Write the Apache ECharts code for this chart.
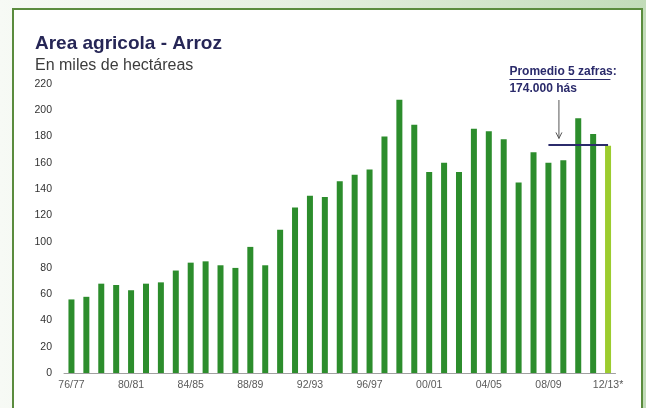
<!DOCTYPE html>
<html><head><meta charset="utf-8">
<script src="https://cdn.jsdelivr.net/npm/echarts@6/dist/echarts.min.js"></script>
<style>
html,body{margin:0;padding:0;width:646px;height:408px;overflow:hidden;background:linear-gradient(90deg,#f7faf5 0%,#e6f0e1 45%,#c2dcb9 100%);}
#panel{position:absolute;left:12px;top:8px;width:631px;height:430px;background:#fff;border:2px solid #5b8c3e;box-sizing:border-box;}
#chart{position:absolute;left:0;top:0;width:646px;height:408px;}
</style></head><body>
<div id="panel"></div><div id="chart"></div>
<script>
const categories = ["76/77","77/78","78/79","79/80","80/81","81/82","82/83","83/84","84/85","85/86","86/87","87/88","88/89","89/90","90/91","91/92","92/93","93/94","94/95","95/96","96/97","97/98","98/99","99/00","00/01","01/02","02/03","03/04","04/05","05/06","06/07","07/08","08/09","09/10","10/11","11/12","12/13*"];
const areaValues = [56,58,68,67,63,68,69,78,84,85,82,80,96,82,109,126,135,134,146,151,155,180,208,189,153,160,153,186,184,178,145,168,160,162,194,182,173];
const yTicks = [0,20,40,60,80,100,120,140,160,180,200,220];
const averageValue = 174;
const averageFrom = 32, averageTo = 36;
const titleText = "Area agricola - Arroz";
const subtitleText = "En miles de hectáreas";
const noteLine1 = "Promedio 5 zafras";
const noteLine2 = "174.000 hás";

const chart = echarts.init(document.getElementById('chart'), null, {renderer:'canvas'});
const FONT = "'Liberation Sans', Arial, sans-serif";
const lastIdx = areaValues.length - 1;
const option = {
  backgroundColor: 'transparent',
  animation: false,
  title: [
    {text: titleText, left: 30, top: 29, padding: 5, textStyle:{fontFamily:FONT, fontSize:19, fontWeight:'bold', color:'#262656'}},
    {text: subtitleText, left: 30, top: 53, padding: 5, textStyle:{fontFamily:FONT, fontSize:16, fontWeight:'normal', color:'#3c3c3c'}}
  ],
  grid: {left: 64, right: 30.5, top: 84, bottom: 35},
  xAxis: {
    type: 'category', data: categories, boundaryGap: true,
    axisLine: {show:true, lineStyle:{color:'#a0a0a0', width:1}},
    axisTick: {show:false},
    axisLabel: {interval: 3, color:'#5a5a5a', fontFamily:FONT, fontSize:10.5, margin:7}
  },
  yAxis: {
    type: 'value', min: yTicks[0], max: yTicks[yTicks.length-1], interval: yTicks[1]-yTicks[0],
    axisLine: {show:false}, axisTick:{show:false}, splitLine:{show:false},
    axisLabel: {color:'#333', fontFamily:FONT, fontSize:10.5, margin:12}
  },
  series: [{
    type: 'bar',
    barWidth: 6,
    data: areaValues.map((v,i)=> i===lastIdx ? {value:v, itemStyle:{color:'#9ccc2e'}} : v),
    itemStyle: {color:'#2c8d2c'},
    markLine: {
      silent: true, symbol: ['none','none'],
      label: {show:false},
      lineStyle: {color:'#2b2b6b', width:2, type:'solid'},
      data: [[{coord:[categories[averageFrom], averageValue]},{coord:[categories[averageTo], averageValue]}]]
    }
  }]
};
chart.setOption(option);

// annotation placed relative to the average line start
const p0 = chart.convertToPixel({seriesIndex:0}, [categories[averageFrom], averageValue]);
const ax = p0[0] + 10.5, tipY = p0[1] - 6;
const tx = p0[0] - 39;
chart.setOption({
  graphic: [
    {type:'text', left: tx, top: 66, style:{text: noteLine1 + ':', font: "bold 12px " + FONT, fill:'#2b2b6b'}},
    {type:'line', shape:{x1: tx, y1: 79.5, x2: tx + 101, y2: 79.5}, style:{stroke:'#2b2b6b', lineWidth:1}},
    {type:'text', left: tx, top: 83, style:{text: noteLine2, font: "bold 12px " + FONT, fill:'#2b2b6b'}},
    {type:'line', shape:{x1: ax, y1: 100, x2: ax, y2: tipY}, style:{stroke:'#555', lineWidth:1}},
    {type:'polyline', shape:{points:[[ax-3, tipY-6],[ax, tipY],[ax+3, tipY-6]]}, style:{stroke:'#555', lineWidth:1, fill:null}}
  ]
});
</script>
</body></html>
